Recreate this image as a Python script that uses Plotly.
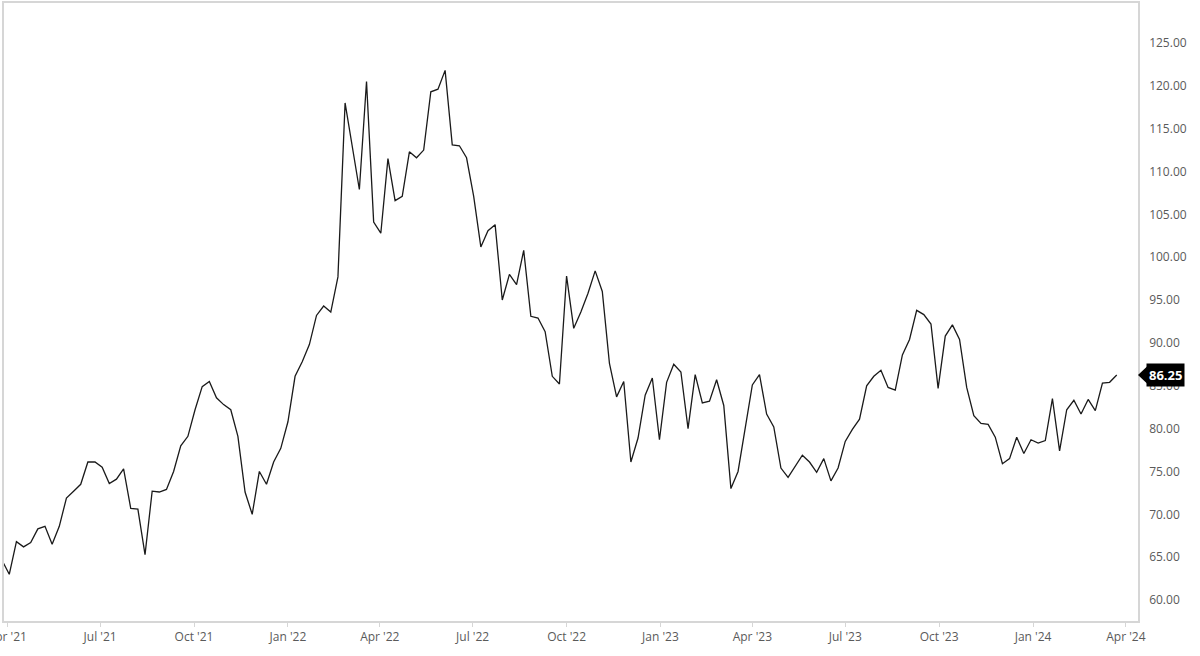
import pandas as pd
import plotly.graph_objects as go

# weekly closing prices, first point sits just left of the visible window
start_date = "2021-03-27"
prices = [
    64.6, 63.0, 66.8, 66.2, 66.7, 68.3, 68.6, 66.5, 68.6, 71.9, 72.7, 73.5, 76.1,
    76.1, 75.5, 73.6, 74.1, 75.3, 70.7, 70.6, 65.3, 72.7, 72.6, 72.9, 75.0,
    78.0, 79.1, 82.2, 84.9, 85.5, 83.6, 82.8, 82.2, 79.1, 72.6, 70.0, 75.0,
    73.5, 76.1, 77.7, 80.8, 86.1, 87.8, 89.8, 93.2, 94.3, 93.6, 97.7, 118.0,
    112.9, 107.9, 120.5, 104.1, 102.8, 111.5, 106.6, 107.1, 112.3, 111.6, 112.5,
    119.3, 119.6, 121.8, 113.1, 113.0, 111.6, 107.1, 101.2, 103.1, 103.8, 95.0,
    98.0, 96.8, 100.8, 93.1, 92.9, 91.3, 86.1, 85.2, 97.8, 91.7, 93.6, 95.8,
    98.4, 96.0, 87.6, 83.7, 85.5, 76.1, 78.9, 83.9, 85.9, 78.7, 85.4, 87.5,
    86.6, 80.0, 86.3, 83.0, 83.2, 85.7, 82.7, 73.0, 75.0, 79.8, 85.1, 86.3,
    81.7, 80.2, 75.4, 74.3, 75.6, 76.9, 76.1, 74.9, 76.5, 73.9, 75.4, 78.5,
    79.9, 81.1, 85.0, 86.1, 86.8, 84.8, 84.5, 88.6, 90.4, 93.8, 93.3, 92.2,
    84.7, 90.8, 92.1, 90.4, 84.8, 81.5, 80.6, 80.5, 79.0, 75.9, 76.5, 79.0,
    77.1, 78.7, 78.3, 78.6, 83.5, 77.4, 82.2, 83.3, 81.7, 83.4, 82.1, 85.3,
    85.4, 86.25,
]
dates = pd.date_range(start_date, periods=len(prices), freq="7D")

y_ticks = list(range(60, 130, 5))
x_range = ["2021-03-28 20:00", "2024-04-12 20:00"]
y_range = [57.55, 129.66]

axis_grey = "#d6d6d6"
label_grey = "#5a5a5a"

fig = go.Figure()
fig.add_trace(go.Scatter(
    x=dates, y=prices, mode="lines",
    line=dict(color="#1a1a1a", width=1.3),
    hoverinfo="x+y", showlegend=False,
))

last = prices[-1]

# price tag on the right axis
fig.add_shape(
    type="path", xref="paper", yref="y",
    xsizemode="pixel", ysizemode="pixel",
    xanchor=1, yanchor=last,
    path="M 0 0 L 9 8.5 L 9 -8.5 Z",
    fillcolor="black", line=dict(width=0),
)
fig.add_annotation(
    x=1, xref="paper", y=last, yref="y",
    text=f"<b>{last:.2f}</b>", showarrow=False,
    xanchor="left", yanchor="middle", xshift=8,
    bgcolor="black", borderpad=2,
    font=dict(color="white", size=13, family="Open Sans"),
)

fig.update_layout(
    width=1200, height=656,
    margin=dict(l=4, r=62, t=3, b=35),
    paper_bgcolor="white", plot_bgcolor="white",
    font=dict(family="Open Sans", size=12, color=label_grey),
    xaxis=dict(
        type="date", range=x_range, automargin=False,
        dtick="M3", tick0="2021-01-01", tickformat="%b '%y",
        ticks="outside", ticklen=4, tickcolor=axis_grey,
        showline=True, linecolor=axis_grey, linewidth=1.5, mirror=True,
        showgrid=False, zeroline=False, ticklabeloverflow="allow",
    ),
    yaxis=dict(
        side="right", range=y_range, automargin=False,
        tickvals=y_ticks, tickformat=".2f",
        ticks="", showline=True, linecolor=axis_grey, linewidth=1.5, mirror=True,
        showgrid=False, zeroline=False, ticklabelstandoff=7,
    ),
)

# drop the default page margin so the figure sits flush with the window
fig.write_html(
    "out.html",
    config={"displayModeBar": False},
    post_script="document.body.style.margin='0';",
)
